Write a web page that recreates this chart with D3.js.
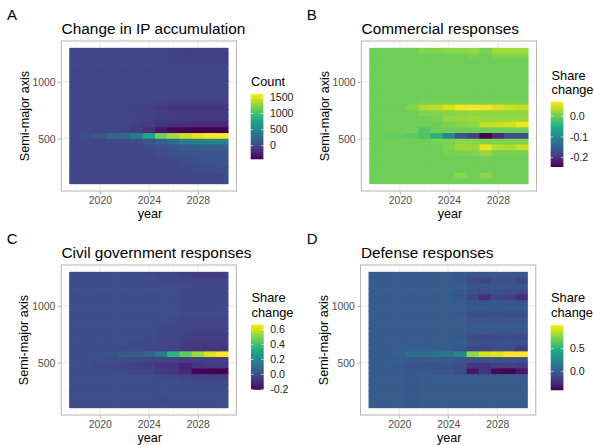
<!DOCTYPE html>
<html><head><meta charset="utf-8">
<script src="https://cdn.jsdelivr.net/npm/d3@7"></script>
<style>body{margin:0;background:#fff}svg{display:block}text{font-family:"Liberation Sans",Arial,Helvetica,sans-serif}</style>
</head><body><svg id="c" width="594" height="445"></svg>
<script>
// ---------- data ----------
const years = [2018,2019,2020,2021,2022,2023,2024,2025,2026,2027,2028,2029,2030];
// lower edge of each 50-unit semi-major-axis band, listed top to bottom
const smaBins = [1250,1200,1150,1100,1050,1000,950,900,850,800,750,700,650,600,550,500,450,400,350,300,250,200,150,100];
const binHeight = 50;
const xTicks = [2020,2024,2028];
const yTicks = [500,1000];
const xMinor = [2018,2022,2026,2030];
const yMinor = [250,750,1250];
const panelTags = ["A","B","C","D"];
const panelTitles = ["Change in IP accumulation","Commercial responses","Civil government responses","Defense responses"];
const legendTitles = [["Count"],["Share","change"],["Share","change"],["Share","change"]];
const legendTicksA = [0,500,1000,1500];
const legendTicksB = [-0.2,-0.1,0.0];
const legendTicksC = [-0.2,0.0,0.2,0.4,0.6];
const legendTicksD = [0.0,0.5];

const ipCount = [
[0,0,0,0,0,0,0,-10,-20,-30,-40,-40,-40],
[0,0,0,0,0,0,0,-10,-20,-30,-30,-30,-30],
[0,0,0,0,0,0,0,-10,-10,-20,-20,-20,-20],
[0,0,0,0,0,0,0,0,-10,-10,-10,-10,-10],
[0,0,0,0,0,0,0,0,0,0,-10,-10,-10],
[0,0,0,0,0,0,0,0,0,0,-10,-10,-10],
[0,0,0,0,0,0,0,0,0,0,-10,-10,-10],
[0,0,0,0,0,0,0,0,0,0,-10,-10,-10],
[0,0,0,0,0,0,0,0,-10,-10,-10,-10,-10],
[0,0,0,0,0,0,-10,-20,-30,-40,-40,-40,-40],
[0,0,0,0,-10,-20,-40,-80,-120,-130,-130,-130,-130],
[0,0,0,0,0,-10,-20,-50,-70,-80,-90,-90,-90],
[0,0,0,0,0,-10,-30,-60,-80,-90,-100,-100,-100],
[0,0,0,0,-10,-30,-60,-120,-150,-170,-180,-180,-180],
[0,0,0,0,-20,-60,-150,-310,-390,-410,-420,-425,-425],
[0,50,130,220,280,420,760,1180,1330,1450,1540,1610,1610],
[0,0,10,20,30,50,100,180,260,420,460,480,480],
[0,0,0,10,10,20,40,80,120,150,170,180,180],
[0,0,0,0,0,10,20,40,70,90,110,120,130],
[0,0,0,0,0,0,10,20,40,60,80,100,120],
[0,0,0,0,0,0,0,10,20,40,60,80,110],
[0,0,0,0,0,0,0,0,10,20,30,40,60],
[0,0,0,0,0,0,0,0,0,10,10,20,30],
[0,0,0,0,0,0,0,0,0,0,10,10,20]
];
const commercial = [
[0,0,0,0,0.01,0.01,0.015,0.015,0.02,0.005,0.025,0.025,0.025],
[0,0,0,0,0,0,0,0,0.005,0,0.01,0.01,0.01],
[0,0,0,0,0,0,0,0,0,0,0,0,0],
[0,0,0,0,0,0,0,0,0,0,0,0,0],
[0,0,0,0,0,0,0,0,0,0,0,0,0],
[0,0,0,0,0,0,0,0,0,0,0,0,0],
[0,0,0,0,0,0,0,0,0,0,0,0,0],
[0,0,0,0,0,0,0,0,0,0,0,0,0],
[0,0,0,0,0,0,0,0,0,0,0,0,0],
[0,0,0,0,0.005,0.005,0.005,0.005,0.005,0.005,0.005,0.005,0.005],
[0,0,0,0.012,0.03,0.038,0.052,0.066,0.07,0.064,0.054,0.044,0.04],
[0,0,0,0,0.01,0.01,0.012,0.016,0.018,0.016,0.016,0.016,0.016],
[0,0,0,0,0,0.005,0.018,0.022,0.025,0.02,0.02,0.022,0.022],
[0,0,0,0,0,0,0.008,0.012,0.015,0.04,0.042,0.048,0.064],
[0,0,0,0.003,-0.015,0,0,0,0,0,0,0,0],
[0,-0.003,-0.005,-0.008,-0.018,-0.045,-0.1,-0.165,-0.185,-0.245,-0.205,-0.17,-0.17],
[0,0,0,0,0,0.005,0.008,0.015,0.015,0.01,0.01,0.01,0.012],
[0,0,0,0,0,0,0.01,0.024,0.024,0.06,0.035,0.03,0.042],
[0,0,0,0,0,0,0.005,0.008,0.01,0.022,0.005,0.005,0.005],
[0,0,0,0,0,0,0,0,0,0,0,0,0],
[0,0,0,0,0,0,0,0,0,0,0,0,0],
[0,0,0,0,0,0,0,0,0,0,0,0,0],
[0,0,0,0,0,0,0,0.015,0,0.015,0,0,0],
[0,0,0,0,0,0,0,0,0,0,0,0,0]
];
const civil = [
[0,0,0,0,0,0,-0.01,-0.02,-0.03,-0.04,-0.05,-0.05,-0.05],
[0,0,0,0,0,0,0,-0.01,-0.02,-0.02,-0.03,-0.03,-0.03],
[0,0,0,0,0,0,0,0,-0.01,-0.01,-0.02,-0.02,-0.02],
[0,0,0,0,0,0,0,0,0,-0.01,-0.01,-0.01,-0.01],
[0,0,0,0,0,0,0,0,0,-0.01,-0.01,-0.01,-0.01],
[0,0,0,0,0,0,0,0,0,-0.01,-0.01,-0.01,-0.01],
[0,0,0,0,0,0,0,0,0,-0.01,-0.01,-0.01,-0.01],
[0,0,0,0,0,0,0,0,0,-0.01,-0.01,-0.01,-0.01],
[0,0,0,0,0,0,0,0,-0.01,-0.02,-0.02,-0.02,-0.02],
[0,0,0,0,0,0,0,-0.01,-0.02,-0.02,-0.03,-0.03,-0.03],
[0,0,0,0,0,0,0,-0.01,-0.02,-0.03,-0.04,-0.04,-0.04],
[0,0,0,0,0,0,-0.01,-0.02,-0.03,-0.04,-0.05,-0.05,-0.05],
[0,0,0,0,0,-0.01,-0.01,-0.02,-0.03,-0.05,-0.06,-0.06,-0.06],
[0,0,0,0,-0.01,-0.01,-0.02,-0.03,-0.04,-0.06,-0.07,-0.08,-0.08],
[0,0,0.01,0.015,0.035,0.045,0.08,0.15,0.36,0.45,0.54,0.62,0.667],
[0,0,0,-0.01,-0.01,-0.01,-0.02,-0.03,-0.04,-0.05,-0.05,-0.05,-0.05],
[0,0,-0.01,-0.02,-0.03,-0.04,-0.05,-0.07,-0.08,-0.11,-0.07,-0.06,-0.06],
[0,0,0,-0.01,-0.02,-0.02,-0.03,-0.05,-0.07,-0.1,-0.19,-0.205,-0.205],
[0,0,0,0,0,0,0,-0.01,-0.02,-0.03,-0.04,-0.04,-0.04],
[0,0,0,0,0,0,0,0,0,-0.01,-0.01,-0.01,-0.01],
[0,0,0,0,0,0,0,0,0,0,0,0,0],
[0,0,0,0,0,0,0,0,0,0,0,0,0],
[0,0,0,0,0,0,0,-0.01,0,0,0,0,0],
[0,0,0,0,0,0,0,0,0,0,0,0,0]
];
const defense = [
[0,0,0,0,0,0,0,-0.02,-0.04,-0.04,-0.04,-0.04,-0.04],
[0,0,0,0,0,0,0,-0.02,-0.08,-0.12,-0.06,-0.06,-0.12],
[0,0,0,0,0,0,0,0,-0.04,-0.04,-0.04,-0.04,-0.04],
[0,0,0,0,0,0,0,-0.02,-0.06,-0.08,-0.06,-0.08,-0.1],
[0,0,0,0,0,0,0,-0.03,-0.12,-0.22,-0.12,-0.16,-0.22],
[0,0,0,0,0,0,0,0,-0.03,-0.03,-0.03,-0.03,-0.03],
[0,0,0,0,0,0,0,0,-0.02,-0.02,-0.02,-0.02,-0.02],
[0,0,0,0,0,0,0,-0.02,-0.08,-0.08,-0.06,-0.08,-0.08],
[0,0,0,0,0,0,0,0,-0.04,-0.04,-0.04,-0.04,-0.04],
[0,0,0,0,0,0,0,0,-0.02,-0.02,-0.02,-0.02,-0.02],
[0,0,0,0,0,0,0,0,-0.03,-0.03,-0.03,-0.03,-0.03],
[0,0,0,0,0,0,0,-0.02,-0.08,-0.1,-0.08,-0.08,-0.1],
[0,0,0,0,0,0,0,0,-0.06,-0.06,-0.06,-0.06,-0.06],
[0,0,0,0,0,0,0,-0.03,-0.12,-0.12,-0.08,-0.08,-0.16],
[0,0,0.03,0.09,0.1,0.12,0.14,0.27,0.78,0.92,0.96,1.02,1.02],
[0,0,0,-0.01,-0.01,-0.01,-0.02,-0.04,-0.05,-0.05,-0.05,-0.05,-0.05],
[0,0,-0.02,-0.05,-0.05,-0.06,-0.06,-0.08,-0.18,-0.2,-0.16,-0.14,-0.16],
[0,0,0,-0.02,-0.03,-0.04,-0.04,-0.08,-0.33,-0.2,-0.38,-0.415,-0.33],
[0,0,0,-0.02,-0.01,0,0,0,0,0,0,0,0],
[0,0,0,-0.02,0,0,0,0,0,0,0,0,0],
[0,0,0,-0.02,0,0,0,0,0,0,0,0,0],
[0,0,0,-0.02,0,0,0,0,0,0,0,0,0],
[0,0,0,-0.02,0,0,0,0,0,0,0,0,0],
[0,0,0,-0.02,0,0,0,0,0,0,0,0,0]
];

// ---------- layout ----------
const panels = [
  {data: ipCount,    ticks: legendTicksA, fmt: d => String(d),   px: 61.3,  py: 41,  tagX: 7,     tagY: 20,    titleY: 33.5,
   leg: {tx: 251,   ty: [85.7],        bx: 250.7, by: 94}},
  {data: commercial, ticks: legendTicksB, fmt: d => d.toFixed(1), px: 361.3, py: 41,  tagX: 306.7, tagY: 20,    titleY: 33.5,
   leg: {tx: 551.5, ty: [79.5, 93.5],  bx: 550.7, by: 101.7}},
  {data: civil,      ticks: legendTicksC, fmt: d => d.toFixed(1), px: 61.2,  py: 265, tagX: 6.7,   tagY: 243.5, titleY: 257.5,
   leg: {tx: 251.5, ty: [302.3, 316.5],bx: 251,   by: 324.5}},
  {data: defense,    ticks: legendTicksD, fmt: d => d.toFixed(1), px: 360.6, py: 265, tagX: 306.7, tagY: 243.5, titleY: 257.5,
   leg: {tx: 551,   ty: [302.3, 316.5],bx: 550.7, by: 325}}
];
const PW = 175.2, PH = 150, BW = 12.7, BH = 65.3;
const FONT_TITLE = 15.4, FONT_AXIS = 12.6, FONT_TICK = 10.4, FONT_LEG = 12.8, FONT_LEGTXT = 10.6, FONT_TAG = 15;

const svg = d3.select("#c");
svg.append("rect").attr("width",594).attr("height",445).attr("fill","#fff");
const defs = svg.append("defs");

panels.forEach((p, i) => {
  const g = svg.append("g");
  const xs = d3.scaleLinear().domain([2016.85, 2031.15]).range([p.px, p.px + PW]);
  const ys = d3.scaleLinear().domain([40, 1360]).range([p.py + PH, p.py]);
  const flat = p.data.flat();
  const ext = d3.extent(flat);
  const color = d3.scaleSequential(d3.interpolateViridis).domain(ext);

  // grid
  g.selectAll(".mx").data(xMinor).join("line")
    .attr("x1", d => xs(d)).attr("x2", d => xs(d)).attr("y1", p.py).attr("y2", p.py + PH)
    .attr("stroke", "#f2f2f2").attr("stroke-width", 0.6);
  g.selectAll(".my").data(yMinor).join("line")
    .attr("y1", d => ys(d)).attr("y2", d => ys(d)).attr("x1", p.px).attr("x2", p.px + PW)
    .attr("stroke", "#f2f2f2").attr("stroke-width", 0.6);
  g.selectAll(".Mx").data(xTicks).join("line")
    .attr("x1", d => xs(d)).attr("x2", d => xs(d)).attr("y1", p.py).attr("y2", p.py + PH)
    .attr("stroke", "#e6e6e6").attr("stroke-width", 0.9);
  g.selectAll(".My").data(yTicks).join("line")
    .attr("y1", d => ys(d)).attr("y2", d => ys(d)).attr("x1", p.px).attr("x2", p.px + PW)
    .attr("stroke", "#e6e6e6").attr("stroke-width", 0.9);

  // tiles: a small overlap onto each neighbour hides seams
  const cells = [];
  p.data.forEach((row, r) => row.forEach((v, c) => cells.push({year: years[c], bin: smaBins[r], v, r, c})));
  const lastCol = years.length - 1;
  cells.sort((a, b) => (b.r - a.r) || (a.c - b.c));
  g.append("g").selectAll("rect").data(cells).join("rect")
    .attr("x", d => xs(d.year - 0.5))
    .attr("width", d => xs(d.year + 0.5) - xs(d.year - 0.5) + (d.c < lastCol ? 0.7 : 0))
    .attr("y", d => ys(d.bin + binHeight) - (d.r > 0 ? 0.7 : 0))
    .attr("height", d => ys(d.bin) - ys(d.bin + binHeight) + (d.r > 0 ? 0.7 : 0))
    .attr("fill", d => color(d.v));

  // border
  g.append("rect").attr("x", p.px).attr("y", p.py).attr("width", PW).attr("height", PH)
    .attr("fill", "none").attr("stroke", "#b3b3b3").attr("stroke-width", 1);

  // axes
  const ax = g.append("g").attr("transform", `translate(0,${p.py + PH + 0.5})`)
    .call(d3.axisBottom(xs).tickValues(xTicks).tickFormat(d3.format("d")).tickSize(3).tickPadding(2.0));
  const ay = g.append("g").attr("transform", `translate(${p.px - 0.5},0)`)
    .call(d3.axisLeft(ys).tickValues(yTicks).tickFormat(d3.format("d")).tickSize(3).tickPadding(2.3));
  [ax, ay].forEach(a => {
    a.select(".domain").remove();
    a.selectAll(".tick line").attr("stroke", "#b3b3b3");
    a.selectAll(".tick text").attr("fill", "#4d4d4d").style("font-size", FONT_TICK + "px")
      .style("font-family", '"Liberation Sans",Arial,sans-serif');
  });

  // titles
  g.append("text").attr("x", p.tagX).attr("y", p.tagY).text(panelTags[i]).style("font-size", FONT_TAG + "px");
  g.append("text").attr("x", p.px + 0.3).attr("y", p.titleY).text(panelTitles[i]).style("font-size", FONT_TITLE + "px");
  g.append("text").attr("x", p.px + PW / 2 + 1).attr("y", p.py + PH + 26.8).attr("text-anchor", "middle")
    .text("year").style("font-size", FONT_AXIS + "px");
  g.append("text").attr("transform", `translate(${p.px - 32.8},${p.py + PH / 2}) rotate(-90)`)
    .attr("text-anchor", "middle").text("Semi-major axis").style("font-size", FONT_AXIS + "px");

  // legend
  const L = p.leg;
  legendTitles[i].forEach((t, k) => {
    g.append("text").attr("x", L.tx).attr("y", L.ty[k]).text(t).style("font-size", FONT_LEG + "px");
  });
  const gid = "grad" + i;
  const grad = defs.append("linearGradient").attr("id", gid).attr("x1", 0).attr("x2", 0).attr("y1", 1).attr("y2", 0);
  d3.range(0, 1.0001, 0.05).forEach(t => {
    grad.append("stop").attr("offset", t).attr("stop-color", d3.interpolateViridis(t));
  });
  g.append("rect").attr("x", L.bx).attr("y", L.by).attr("width", BW).attr("height", BH).attr("fill", `url(#${gid})`);
  const ls = d3.scaleLinear().domain(ext).range([L.by + BH, L.by]);
  p.ticks.forEach(tv => {
    const yy = ls(tv);
    g.append("line").attr("x1", L.bx).attr("x2", L.bx + BW / 5).attr("y1", yy).attr("y2", yy).attr("stroke", "#fff").attr("stroke-width", 0.6);
    g.append("line").attr("x1", L.bx + BW - BW / 5).attr("x2", L.bx + BW).attr("y1", yy).attr("y2", yy).attr("stroke", "#fff").attr("stroke-width", 0.6);
    g.append("text").attr("x", L.bx + BW + 6.5).attr("y", yy).attr("dy", "0.36em").text(p.fmt(tv))
      .style("font-size", FONT_LEGTXT + "px").attr("fill", "#1a1a1a");
  });
});
</script></body></html>
